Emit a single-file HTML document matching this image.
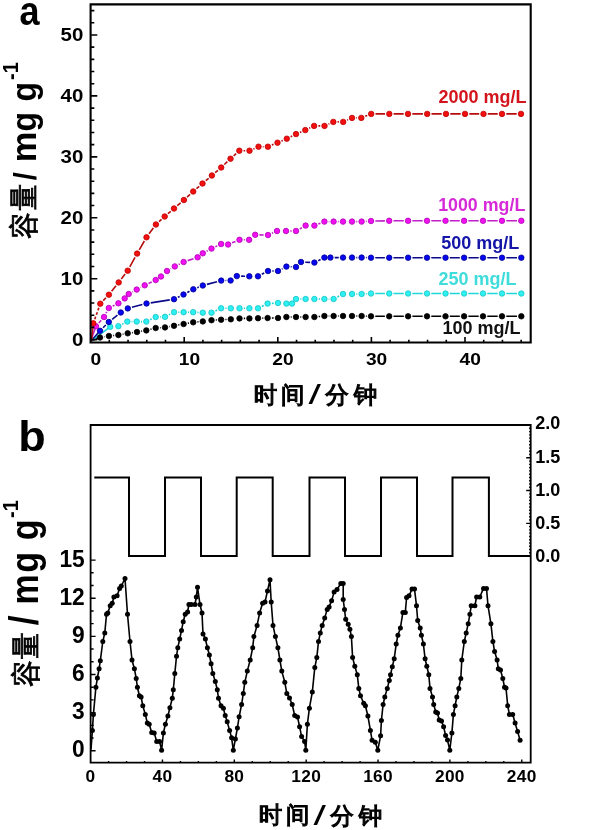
<!DOCTYPE html>
<html><head><meta charset="utf-8"><title>Capacity plot</title>
<style>html,body{margin:0;padding:0;background:#fff;width:600px;height:830px;overflow:hidden}svg{display:block}</style>
</head><body>
<svg width="600" height="830" viewBox="0 0 600 830" style="font-family:&quot;Liberation Sans&quot;,&quot;WenQuanYi Zen Hei&quot;,sans-serif"><rect width="600" height="830" fill="#fff"/><path fill="none" stroke="#000000" stroke-width="1.6" d="M91 341L100 337.5M104.24 336.79L104.66 336.71M113.18 335.55L114.12 335.45M122.63 334.23L123.47 334.07M131.96 332.7L132.74 332.6M141.24 331.27L142.06 331.13M150.47 329.34L151.53 329.06M159.99 327.72L160.71 327.68M169.23 326.65L169.77 326.55M178.23 325.01L179.37 324.79M187.83 323.25L188.97 323.05M197.48 321.9L198.52 321.8M215.79 319.98L216.81 319.92M225.4 319.52L226.5 319.48M243.8 318.4L245.1 318.4M262.3 318.11L263.3 318.09M271.9 318L273.7 318M290.7 317L291.7 317M300.3 317L301.3 317M318.68 316.57L320.12 316.43M328.7 316L329.3 316M337.9 316L338.7 316M356.3 316L357.3 316M365.9 316.14L366.7 316.16M375.3 316.3L384.9 316.3M393.5 316.3L403.8 316.3M412.4 316.3L422.7 316.3M431.3 316.3L441.2 316.3M449.8 316.3L459.8 316.3M468.4 316.3L478.7 316.3M487.3 316.3L497.7 316.3M506.3 316.3L517 316.3"/><path fill="none" stroke="#1fd6d9" stroke-width="1.6" d="M91 341L110.2 326.8M122.22 324.23L123.48 323.57M131.6 321.6L132.4 321.6M141 321.6L142 321.6M150.16 319.71L151.84 318.89M160 316.91L160.7 316.89M168.83 314.84L170.17 314.16M178.3 312.2L179.3 312.2M187.9 312.2L188.9 312.2M197.49 312.42L198.51 312.48M215.41 310.91L217.19 310.09M225.4 308.3L226.5 308.3M243.8 308.3L245.1 308.3M261.86 306.41L263.74 305.49M271.89 303.35L273.71 303.25M300.3 299L301.3 299M318.7 299L320.1 299M328.7 299L329.3 299M337.4 296.98L339.2 296.02M356.3 294L357.3 294M365.89 293.77L366.71 293.73M375.3 293.5L384.9 293.5M393.5 293.5L403.8 293.5M412.4 293.5L422.7 293.5M431.3 293.5L441.2 293.5M449.8 293.5L459.8 293.5M468.4 293.5L478.7 293.5M487.3 293.5L497.7 293.5M506.3 293.5L517 293.5"/><path fill="none" stroke="#0a0a8a" stroke-width="1.6" d="M91 341L100 330.8M103.04 327.76L105.76 325.04M112.17 319.33L117.43 315.17M131.96 307.31L142.34 304.59M150.75 302.84L169.75 299.86M177.85 297.29L179.65 296.41M187.3 292.48L189.5 291.32M197.29 287.7L198.81 287.1M206.96 284.39L217.04 281.71M225.5 280.55L226.3 280.55M241.1 276.17L245 276.23M261.8 274.29L264.2 273.01M272.3 271L273.7 271M281.81 269L282.59 268.6M290.7 266.78L291.7 266.82M305.3 262.19L310.1 262.41M318.25 260.68L320.55 259.52M334.7 257.6L338.7 257.6M356.3 257.6L357.3 257.6M365.9 257.65L366.7 257.65M375.3 257.7L384.9 257.7M393.5 257.7L403.8 257.7M412.4 257.7L422.7 257.7M431.3 257.7L441.2 257.7M449.8 257.7L459.8 257.7M468.4 257.7L478.7 257.7M487.3 257.7L497.7 257.7M506.3 257.7L517 257.7"/><path fill="none" stroke="#c21fc8" stroke-width="1.6" d="M91 340L96 326.3M98.8 323.04L101.2 320.26M106.02 313.21L106.78 311.79M112.66 306.11L114.54 305.19M132.47 291.93L132.93 291.67M140.49 287.56L140.91 287.34M148.57 283.43L151.83 281.87M170.7 268.82L171.1 268.58M178.65 264.48L179.75 263.92M187.68 260.63L193.52 258.67M206.58 251.26L207.72 250.64M215.38 246.74L217.22 245.86M232.08 242.86L235.52 241.44M243.8 239.8L244.8 239.8M259.5 234.87L263.7 234.93M271.93 233.25L273.07 232.75M290.3 231L291.7 231M299.75 228.89L301.85 227.71M318.39 224L320.41 223.2M328.7 221.6L329.3 221.6M337.9 221.6L338.7 221.6M356.3 221.6L357.3 221.6M365.89 221.33L366.71 221.27M375.3 220.95L384.9 220.85M393.5 220.8L403.8 220.8M412.4 220.8L422.7 220.8M431.3 220.8L441.2 220.8M449.8 220.8L459.8 220.8M468.4 220.8L478.7 220.8M487.3 220.8L497.7 220.8M506.3 220.8L517 220.8"/><path fill="none" stroke="#b80d0d" stroke-width="1.6" d="M91.5 341L93.3 323.3M94.75 319.25L95.69 316.61M96.33 314.82L97.27 312.18M97.91 310.39L98.85 307.75M103.27 300.59L105.93 297.81M111.58 291.34L116.02 285.76M121.32 278.99L125.08 274.11M129.77 266.93L135.03 257.37M139.25 249.88L144.35 241.02M149.05 233.83L153.35 227.97M159.08 221.61L161.52 219.39M167.96 213.7L170.74 211.3M177.26 205.7L180.64 202.8M187.07 197.1L190.03 194.4M196.46 188.7L199.24 186.3M205.77 180.71L208.63 178.29M215.16 172.7L217.94 170.3M224.32 164.54L227.38 161.66M233.68 155.81L236.12 153.59M243.6 150.7L245.2 150.7M253.43 148.95L254.57 148.45M262.8 146.7L263.6 146.7M271.87 145.05L273.53 144.35M281.45 141L282.85 140.4M290.65 136.78L292.15 136.02M299.95 132.4L301.35 131.8M309.18 128.25L310.22 127.75M318.4 125.9L320.2 125.9M328.41 124.12L329.39 123.68M337.6 121.9L338.9 121.9M347.11 120.12L348.09 119.68M356.3 117.9L357 117.9M365.29 116.29L367.21 115.51M375.5 113.9L385 113.9M393.6 113.9L403.7 113.9M412.3 113.9L422.9 113.9M431.5 113.9L441.7 113.9M450.3 113.9L460.7 113.9M469.3 113.9L479.2 113.9M487.8 113.9L497.7 113.9M506.3 113.9L516.7 113.9"/><g fill="#000000" stroke="#000000" stroke-width="0.8"><circle cx="100" cy="337.5" r="2.75"/><circle cx="108.9" cy="336" r="2.75"/><circle cx="118.4" cy="335" r="2.75"/><circle cx="127.7" cy="333.3" r="2.75"/><circle cx="137" cy="332" r="2.75"/><circle cx="146.3" cy="330.4" r="2.75"/><circle cx="155.7" cy="328" r="2.75"/><circle cx="165" cy="327.4" r="2.75"/><circle cx="174" cy="325.8" r="2.75"/><circle cx="183.6" cy="324" r="2.75"/><circle cx="193.2" cy="322.3" r="2.75"/><circle cx="202.8" cy="321.4" r="2.75"/><circle cx="211.5" cy="320.2" r="2.75"/><circle cx="221.1" cy="319.7" r="2.75"/><circle cx="230.8" cy="319.3" r="2.75"/><circle cx="239.5" cy="318.4" r="2.75"/><circle cx="249.4" cy="318.4" r="2.75"/><circle cx="258" cy="318.2" r="2.75"/><circle cx="267.6" cy="318" r="2.75"/><circle cx="278" cy="318" r="2.75"/><circle cx="286.4" cy="317" r="2.75"/><circle cx="296" cy="317" r="2.75"/><circle cx="305.6" cy="317" r="2.75"/><circle cx="314.4" cy="317" r="2.75"/><circle cx="324.4" cy="316" r="2.75"/><circle cx="333.6" cy="316" r="2.75"/><circle cx="343" cy="316" r="2.75"/><circle cx="352" cy="316" r="2.75"/><circle cx="361.6" cy="316" r="2.75"/><circle cx="371" cy="316.3" r="2.75"/><circle cx="389.2" cy="316.3" r="2.75"/><circle cx="408.1" cy="316.3" r="2.75"/><circle cx="427" cy="316.3" r="2.75"/><circle cx="445.5" cy="316.3" r="2.75"/><circle cx="464.1" cy="316.3" r="2.75"/><circle cx="483" cy="316.3" r="2.75"/><circle cx="502" cy="316.3" r="2.75"/><circle cx="521.3" cy="316.3" r="2.75"/></g><g fill="#2ef0f0" stroke="#14c4c8" stroke-width="0.8"><circle cx="110.2" cy="326.8" r="2.75"/><circle cx="118.4" cy="326.2" r="2.75"/><circle cx="127.3" cy="321.6" r="2.75"/><circle cx="136.7" cy="321.6" r="2.75"/><circle cx="146.3" cy="321.6" r="2.75"/><circle cx="155.7" cy="317" r="2.75"/><circle cx="165" cy="316.8" r="2.75"/><circle cx="174" cy="312.2" r="2.75"/><circle cx="183.6" cy="312.2" r="2.75"/><circle cx="193.2" cy="312.2" r="2.75"/><circle cx="202.8" cy="312.7" r="2.75"/><circle cx="211.5" cy="312.7" r="2.75"/><circle cx="221.1" cy="308.3" r="2.75"/><circle cx="230.8" cy="308.3" r="2.75"/><circle cx="239.5" cy="308.3" r="2.75"/><circle cx="249.4" cy="308.3" r="2.75"/><circle cx="258" cy="308.3" r="2.75"/><circle cx="267.6" cy="303.6" r="2.75"/><circle cx="278" cy="303" r="2.75"/><circle cx="286.4" cy="303.6" r="2.75"/><circle cx="292" cy="303.6" r="2.75"/><circle cx="296" cy="299" r="2.75"/><circle cx="305.6" cy="299" r="2.75"/><circle cx="314.4" cy="299" r="2.75"/><circle cx="324.4" cy="299" r="2.75"/><circle cx="333.6" cy="299" r="2.75"/><circle cx="343" cy="294" r="2.75"/><circle cx="352" cy="294" r="2.75"/><circle cx="361.6" cy="294" r="2.75"/><circle cx="371" cy="293.5" r="2.75"/><circle cx="389.2" cy="293.5" r="2.75"/><circle cx="408.1" cy="293.5" r="2.75"/><circle cx="427" cy="293.5" r="2.75"/><circle cx="445.5" cy="293.5" r="2.75"/><circle cx="464.1" cy="293.5" r="2.75"/><circle cx="483" cy="293.5" r="2.75"/><circle cx="502" cy="293.5" r="2.75"/><circle cx="521.3" cy="293.5" r="2.75"/></g><g fill="#0606f0" stroke="#000090" stroke-width="0.8"><circle cx="100" cy="330.8" r="2.75"/><circle cx="108.8" cy="322" r="2.75"/><circle cx="120.8" cy="312.5" r="2.75"/><circle cx="127.8" cy="308.4" r="2.75"/><circle cx="146.5" cy="303.5" r="2.75"/><circle cx="174" cy="299.2" r="2.75"/><circle cx="183.5" cy="294.5" r="2.75"/><circle cx="193.3" cy="289.3" r="2.75"/><circle cx="202.8" cy="285.5" r="2.75"/><circle cx="221.2" cy="280.6" r="2.75"/><circle cx="230.6" cy="280.5" r="2.75"/><circle cx="236.8" cy="276.1" r="2.75"/><circle cx="249.3" cy="276.3" r="2.75"/><circle cx="258" cy="276.3" r="2.75"/><circle cx="268" cy="271" r="2.75"/><circle cx="278" cy="271" r="2.75"/><circle cx="286.4" cy="266.6" r="2.75"/><circle cx="296" cy="267" r="2.75"/><circle cx="301" cy="262" r="2.75"/><circle cx="314.4" cy="262.6" r="2.75"/><circle cx="324.4" cy="257.6" r="2.75"/><circle cx="330.4" cy="257.6" r="2.75"/><circle cx="343" cy="257.6" r="2.75"/><circle cx="352" cy="257.6" r="2.75"/><circle cx="361.6" cy="257.6" r="2.75"/><circle cx="371" cy="257.7" r="2.75"/><circle cx="389.2" cy="257.7" r="2.75"/><circle cx="408.1" cy="257.7" r="2.75"/><circle cx="427" cy="257.7" r="2.75"/><circle cx="445.5" cy="257.7" r="2.75"/><circle cx="464.1" cy="257.7" r="2.75"/><circle cx="483" cy="257.7" r="2.75"/><circle cx="502" cy="257.7" r="2.75"/><circle cx="521.3" cy="257.7" r="2.75"/></g><g fill="#f010f0" stroke="#b000b8" stroke-width="0.8"><circle cx="96" cy="326.3" r="2.75"/><circle cx="104" cy="317" r="2.75"/><circle cx="108.8" cy="308" r="2.75"/><circle cx="118.4" cy="303.3" r="2.75"/><circle cx="124.7" cy="298.4" r="2.75"/><circle cx="128.7" cy="294" r="2.75"/><circle cx="136.7" cy="289.6" r="2.75"/><circle cx="144.7" cy="285.3" r="2.75"/><circle cx="155.7" cy="280" r="2.75"/><circle cx="161" cy="276.5" r="2.75"/><circle cx="167" cy="271" r="2.75"/><circle cx="174.8" cy="266.4" r="2.75"/><circle cx="183.6" cy="262" r="2.75"/><circle cx="197.6" cy="257.3" r="2.75"/><circle cx="202.8" cy="253.3" r="2.75"/><circle cx="211.5" cy="248.6" r="2.75"/><circle cx="221.1" cy="244" r="2.75"/><circle cx="228.1" cy="244.5" r="2.75"/><circle cx="239.5" cy="239.8" r="2.75"/><circle cx="249.1" cy="239.8" r="2.75"/><circle cx="255.2" cy="234.8" r="2.75"/><circle cx="268" cy="235" r="2.75"/><circle cx="277" cy="231" r="2.75"/><circle cx="286" cy="231" r="2.75"/><circle cx="296" cy="231" r="2.75"/><circle cx="305.6" cy="225.6" r="2.75"/><circle cx="314.4" cy="225.6" r="2.75"/><circle cx="324.4" cy="221.6" r="2.75"/><circle cx="333.6" cy="221.6" r="2.75"/><circle cx="343" cy="221.6" r="2.75"/><circle cx="352" cy="221.6" r="2.75"/><circle cx="361.6" cy="221.6" r="2.75"/><circle cx="371" cy="221" r="2.75"/><circle cx="389.2" cy="220.8" r="2.75"/><circle cx="408.1" cy="220.8" r="2.75"/><circle cx="427" cy="220.8" r="2.75"/><circle cx="445.5" cy="220.8" r="2.75"/><circle cx="464.1" cy="220.8" r="2.75"/><circle cx="483" cy="220.8" r="2.75"/><circle cx="502" cy="220.8" r="2.75"/><circle cx="521.3" cy="220.8" r="2.75"/></g><g fill="#f01010" stroke="#c00000" stroke-width="0.8"><circle cx="93.3" cy="323.3" r="2.75"/><circle cx="100.3" cy="303.7" r="2.75"/><circle cx="108.9" cy="294.7" r="2.75"/><circle cx="118.7" cy="282.4" r="2.75"/><circle cx="127.7" cy="270.7" r="2.75"/><circle cx="137.1" cy="253.6" r="2.75"/><circle cx="146.5" cy="237.3" r="2.75"/><circle cx="155.9" cy="224.5" r="2.75"/><circle cx="164.7" cy="216.5" r="2.75"/><circle cx="174" cy="208.5" r="2.75"/><circle cx="183.9" cy="200" r="2.75"/><circle cx="193.2" cy="191.5" r="2.75"/><circle cx="202.5" cy="183.5" r="2.75"/><circle cx="211.9" cy="175.5" r="2.75"/><circle cx="221.2" cy="167.5" r="2.75"/><circle cx="230.5" cy="158.7" r="2.75"/><circle cx="239.3" cy="150.7" r="2.75"/><circle cx="249.5" cy="150.7" r="2.75"/><circle cx="258.5" cy="146.7" r="2.75"/><circle cx="267.9" cy="146.7" r="2.75"/><circle cx="277.5" cy="142.7" r="2.75"/><circle cx="286.8" cy="138.7" r="2.75"/><circle cx="296" cy="134.1" r="2.75"/><circle cx="305.3" cy="130.1" r="2.75"/><circle cx="314.1" cy="125.9" r="2.75"/><circle cx="324.5" cy="125.9" r="2.75"/><circle cx="333.3" cy="121.9" r="2.75"/><circle cx="343.2" cy="121.9" r="2.75"/><circle cx="352" cy="117.9" r="2.75"/><circle cx="361.3" cy="117.9" r="2.75"/><circle cx="371.2" cy="113.9" r="2.75"/><circle cx="389.3" cy="113.9" r="2.75"/><circle cx="408" cy="113.9" r="2.75"/><circle cx="427.2" cy="113.9" r="2.75"/><circle cx="446" cy="113.9" r="2.75"/><circle cx="465" cy="113.9" r="2.75"/><circle cx="483.5" cy="113.9" r="2.75"/><circle cx="502" cy="113.9" r="2.75"/><circle cx="521" cy="113.9" r="2.75"/></g><path fill="none" stroke="#000" stroke-width="2.1" d="M90.6 4.4H530.7V342.5H90.6Z"/><path fill="none" stroke="#000" stroke-width="1.6" d="M90.6 339.6h6.7M90.6 327.42h3.7M90.6 315.23h3.7M90.6 303.05h3.7M90.6 290.86h3.7M90.6 278.68h6.7M90.6 266.49h3.7M90.6 254.31h3.7M90.6 242.12h3.7M90.6 229.94h3.7M90.6 217.75h6.7M90.6 205.57h3.7M90.6 193.38h3.7M90.6 181.2h3.7M90.6 169.01h3.7M90.6 156.83h6.7M90.6 144.64h3.7M90.6 132.46h3.7M90.6 120.27h3.7M90.6 108.09h3.7M90.6 95.9h6.7M90.6 83.72h3.7M90.6 71.53h3.7M90.6 59.35h3.7M90.6 47.16h3.7M90.6 34.98h6.7M90.6 22.79h3.7M90.6 10.61h3.7M109.32 342.5v-2.8M128.04 342.5v-2.8M146.76 342.5v-2.8M165.48 342.5v-2.8M184.2 342.5v-5.5M202.92 342.5v-2.8M221.64 342.5v-2.8M240.36 342.5v-2.8M259.08 342.5v-2.8M277.8 342.5v-5.5M296.52 342.5v-2.8M315.24 342.5v-2.8M333.96 342.5v-2.8M352.68 342.5v-2.8M371.4 342.5v-5.5M390.12 342.5v-2.8M408.84 342.5v-2.8M427.56 342.5v-2.8M446.28 342.5v-2.8M465 342.5v-5.5M483.72 342.5v-2.8M502.44 342.5v-2.8M521.16 342.5v-2.8"/><path fill="none" stroke="#000" stroke-width="2" d="M94.3 477.46H129V556.1H165V477.46H201V556.1H236.7V477.46H272.7V556.1H309.5V477.46H345V556.1H381V477.46H417V556.1H452.5V477.46H488.9V556.1H530.7"/><path fill="none" stroke="#000" stroke-width="1.6" stroke-linejoin="round" d="M91 749.5L92.4 730.4L93.4 714.4L95.9 687.2L97.4 678L99.1 668.7L100.3 660.8L102.8 641.5L104.8 632.9L106.5 614.3L107.8 613.1L110.2 605.7L112.2 603.2L113.9 597L117.1 595.8L119.6 588.4L121.3 586L125 578.5L127.5 614.3L130 641.5L132 660L134.4 668.7L136.2 678.5L137.4 687.2L139.4 695.8L141.1 697L142.8 705.7L145.3 714.4L147.3 723L149.2 724.2L151.7 732.4L154.2 732.9L156.7 741.5L159.6 741.5L161.6 750.2L163.4 732.9L165.4 724.2L167.9 716L169.9 707.7L172.3 698.3L173.3 689.7L174.8 673.6L176.5 656.3L177.8 647.7L179.7 639L181.5 630.4L183.2 621.7L185.2 614.3L187.6 611.9L188.9 604.5L191.3 604.5L195 604.5L196.3 597L197.5 587.2L200 604.5L202 613L203 634L205.4 639L207.4 647.7L209.4 655L211.1 663.7L212.8 673.6L215.3 681.5L217.3 689.7L218.5 698.3L221 705.7L223.4 708.2L225.2 715.6L227.2 721.8L229.6 730.4L231.6 737.8L233.3 750.2L235.4 739L237.4 728L239.1 716.8L241.6 704.5L243.3 693.4L244.8 682.3L247.3 671.1L250.2 660L252.7 647.7L253.9 636.6L257.1 625.4L259.6 613.1L262.6 603.2L265 602L267.5 590.9L270 579.8L271.2 602L273 625.4L275.4 636.6L277.9 647.7L279.9 660L281.8 671.1L284.8 682.3L286.8 693.4L289.5 698L292.2 704.5L294.7 715.6L297.5 717L299.6 726.7L301.6 736.6L304.6 741.5L305.8 750.2L307.4 724.2L309.4 708.2L312.3 692.1L314.8 667.4L316.8 657.6L318.5 641.5L320.3 632.9L322.2 625.4L324.7 618L327.2 609.4L329.1 606.9L331.6 600.8L334.1 592.1L337 589.6L340.8 583.5L343.2 583.5L343.2 599.5L344.5 609.4L345.7 619.3L348.2 624.2L349.9 629.2L351.4 636.6L352.6 657.6L354.8 666.2L357.3 674.8L358.8 688.4L360.5 695.8L363.7 703.2L365.4 705.7L367.9 716L370.4 730.4L372.1 740.3L375.3 742.3L377.8 750.2L380.6 735.8L381.4 720.5L383.1 704.5L384.8 697L387.3 688.4L389.3 680.5L390.5 674.8L392.3 666.7L394.2 658.8L396.2 644L397.9 635.3L400.4 627.9L402.9 612.4L405.3 612.4L406.6 597.5L409 595.8L412 589.1L414.5 589.1L416.5 605.7L417.7 620.5L420.2 627.9L421.4 635.3L423.4 644L425.1 658.8L426.8 666.2L428.8 674.8L430 688.4L432.5 697L433.7 704.5L435.7 711.9L437.5 713L439.2 720L441.5 721L443.6 726.7L445.6 735.4L447.5 740L449.8 750.2L451.9 732.9L453.4 714.4L455.1 705.7L456.8 697L458.8 688.4L460.8 678.5L461.8 660L464.3 641.5L466.2 632.9L468.2 623.7L469.9 614.3L471.2 605.7L474.9 605.7L476.6 597L479.8 597L483.5 588.4L486.5 588.4L488 605.7L490.9 623.7L492.9 641.5L494.6 651.4L497.1 660L498.3 668.7L500.5 670L502.8 678.5L504.5 687.2L506 688L507.7 705.7L509.4 714.4L512.7 714.4L515.1 723L517.6 731.6L520.1 740.3"/><g fill="#000"><circle cx="92.4" cy="730.4" r="2.5"/><circle cx="93.4" cy="714.4" r="2.5"/><circle cx="95.9" cy="687.2" r="2.5"/><circle cx="97.4" cy="678" r="2.5"/><circle cx="99.1" cy="668.7" r="2.5"/><circle cx="100.3" cy="660.8" r="2.5"/><circle cx="102.8" cy="641.5" r="2.5"/><circle cx="104.8" cy="632.9" r="2.5"/><circle cx="106.5" cy="614.3" r="2.5"/><circle cx="107.8" cy="613.1" r="2.5"/><circle cx="110.2" cy="605.7" r="2.5"/><circle cx="112.2" cy="603.2" r="2.5"/><circle cx="113.9" cy="597" r="2.5"/><circle cx="117.1" cy="595.8" r="2.5"/><circle cx="119.6" cy="588.4" r="2.5"/><circle cx="121.3" cy="586" r="2.5"/><circle cx="125" cy="578.5" r="2.5"/><circle cx="127.5" cy="614.3" r="2.5"/><circle cx="130" cy="641.5" r="2.5"/><circle cx="132" cy="660" r="2.5"/><circle cx="134.4" cy="668.7" r="2.5"/><circle cx="136.2" cy="678.5" r="2.5"/><circle cx="137.4" cy="687.2" r="2.5"/><circle cx="139.4" cy="695.8" r="2.5"/><circle cx="141.1" cy="697" r="2.5"/><circle cx="142.8" cy="705.7" r="2.5"/><circle cx="145.3" cy="714.4" r="2.5"/><circle cx="147.3" cy="723" r="2.5"/><circle cx="149.2" cy="724.2" r="2.5"/><circle cx="151.7" cy="732.4" r="2.5"/><circle cx="154.2" cy="732.9" r="2.5"/><circle cx="156.7" cy="741.5" r="2.5"/><circle cx="159.6" cy="741.5" r="2.5"/><circle cx="161.6" cy="750.2" r="2.5"/><circle cx="163.4" cy="732.9" r="2.5"/><circle cx="165.4" cy="724.2" r="2.5"/><circle cx="167.9" cy="716" r="2.5"/><circle cx="169.9" cy="707.7" r="2.5"/><circle cx="172.3" cy="698.3" r="2.5"/><circle cx="173.3" cy="689.7" r="2.5"/><circle cx="174.8" cy="673.6" r="2.5"/><circle cx="176.5" cy="656.3" r="2.5"/><circle cx="177.8" cy="647.7" r="2.5"/><circle cx="179.7" cy="639" r="2.5"/><circle cx="181.5" cy="630.4" r="2.5"/><circle cx="183.2" cy="621.7" r="2.5"/><circle cx="185.2" cy="614.3" r="2.5"/><circle cx="187.6" cy="611.9" r="2.5"/><circle cx="188.9" cy="604.5" r="2.5"/><circle cx="191.3" cy="604.5" r="2.5"/><circle cx="195" cy="604.5" r="2.5"/><circle cx="196.3" cy="597" r="2.5"/><circle cx="197.5" cy="587.2" r="2.5"/><circle cx="200" cy="604.5" r="2.5"/><circle cx="202" cy="613" r="2.5"/><circle cx="203" cy="634" r="2.5"/><circle cx="205.4" cy="639" r="2.5"/><circle cx="207.4" cy="647.7" r="2.5"/><circle cx="209.4" cy="655" r="2.5"/><circle cx="211.1" cy="663.7" r="2.5"/><circle cx="212.8" cy="673.6" r="2.5"/><circle cx="215.3" cy="681.5" r="2.5"/><circle cx="217.3" cy="689.7" r="2.5"/><circle cx="218.5" cy="698.3" r="2.5"/><circle cx="221" cy="705.7" r="2.5"/><circle cx="223.4" cy="708.2" r="2.5"/><circle cx="225.2" cy="715.6" r="2.5"/><circle cx="227.2" cy="721.8" r="2.5"/><circle cx="229.6" cy="730.4" r="2.5"/><circle cx="231.6" cy="737.8" r="2.5"/><circle cx="233.3" cy="750.2" r="2.5"/><circle cx="235.4" cy="739" r="2.5"/><circle cx="237.4" cy="728" r="2.5"/><circle cx="239.1" cy="716.8" r="2.5"/><circle cx="241.6" cy="704.5" r="2.5"/><circle cx="243.3" cy="693.4" r="2.5"/><circle cx="244.8" cy="682.3" r="2.5"/><circle cx="247.3" cy="671.1" r="2.5"/><circle cx="250.2" cy="660" r="2.5"/><circle cx="252.7" cy="647.7" r="2.5"/><circle cx="253.9" cy="636.6" r="2.5"/><circle cx="257.1" cy="625.4" r="2.5"/><circle cx="259.6" cy="613.1" r="2.5"/><circle cx="262.6" cy="603.2" r="2.5"/><circle cx="265" cy="602" r="2.5"/><circle cx="267.5" cy="590.9" r="2.5"/><circle cx="270" cy="579.8" r="2.5"/><circle cx="271.2" cy="602" r="2.5"/><circle cx="273" cy="625.4" r="2.5"/><circle cx="275.4" cy="636.6" r="2.5"/><circle cx="277.9" cy="647.7" r="2.5"/><circle cx="279.9" cy="660" r="2.5"/><circle cx="281.8" cy="671.1" r="2.5"/><circle cx="284.8" cy="682.3" r="2.5"/><circle cx="286.8" cy="693.4" r="2.5"/><circle cx="289.5" cy="698" r="2.5"/><circle cx="292.2" cy="704.5" r="2.5"/><circle cx="294.7" cy="715.6" r="2.5"/><circle cx="297.5" cy="717" r="2.5"/><circle cx="299.6" cy="726.7" r="2.5"/><circle cx="301.6" cy="736.6" r="2.5"/><circle cx="304.6" cy="741.5" r="2.5"/><circle cx="305.8" cy="750.2" r="2.5"/><circle cx="307.4" cy="724.2" r="2.5"/><circle cx="309.4" cy="708.2" r="2.5"/><circle cx="312.3" cy="692.1" r="2.5"/><circle cx="314.8" cy="667.4" r="2.5"/><circle cx="316.8" cy="657.6" r="2.5"/><circle cx="318.5" cy="641.5" r="2.5"/><circle cx="320.3" cy="632.9" r="2.5"/><circle cx="322.2" cy="625.4" r="2.5"/><circle cx="324.7" cy="618" r="2.5"/><circle cx="327.2" cy="609.4" r="2.5"/><circle cx="329.1" cy="606.9" r="2.5"/><circle cx="331.6" cy="600.8" r="2.5"/><circle cx="334.1" cy="592.1" r="2.5"/><circle cx="337" cy="589.6" r="2.5"/><circle cx="340.8" cy="583.5" r="2.5"/><circle cx="343.2" cy="583.5" r="2.5"/><circle cx="343.2" cy="599.5" r="2.5"/><circle cx="344.5" cy="609.4" r="2.5"/><circle cx="345.7" cy="619.3" r="2.5"/><circle cx="348.2" cy="624.2" r="2.5"/><circle cx="349.9" cy="629.2" r="2.5"/><circle cx="351.4" cy="636.6" r="2.5"/><circle cx="352.6" cy="657.6" r="2.5"/><circle cx="354.8" cy="666.2" r="2.5"/><circle cx="357.3" cy="674.8" r="2.5"/><circle cx="358.8" cy="688.4" r="2.5"/><circle cx="360.5" cy="695.8" r="2.5"/><circle cx="363.7" cy="703.2" r="2.5"/><circle cx="365.4" cy="705.7" r="2.5"/><circle cx="367.9" cy="716" r="2.5"/><circle cx="370.4" cy="730.4" r="2.5"/><circle cx="372.1" cy="740.3" r="2.5"/><circle cx="375.3" cy="742.3" r="2.5"/><circle cx="377.8" cy="750.2" r="2.5"/><circle cx="380.6" cy="735.8" r="2.5"/><circle cx="381.4" cy="720.5" r="2.5"/><circle cx="383.1" cy="704.5" r="2.5"/><circle cx="384.8" cy="697" r="2.5"/><circle cx="387.3" cy="688.4" r="2.5"/><circle cx="389.3" cy="680.5" r="2.5"/><circle cx="390.5" cy="674.8" r="2.5"/><circle cx="392.3" cy="666.7" r="2.5"/><circle cx="394.2" cy="658.8" r="2.5"/><circle cx="396.2" cy="644" r="2.5"/><circle cx="397.9" cy="635.3" r="2.5"/><circle cx="400.4" cy="627.9" r="2.5"/><circle cx="402.9" cy="612.4" r="2.5"/><circle cx="405.3" cy="612.4" r="2.5"/><circle cx="406.6" cy="597.5" r="2.5"/><circle cx="409" cy="595.8" r="2.5"/><circle cx="412" cy="589.1" r="2.5"/><circle cx="414.5" cy="589.1" r="2.5"/><circle cx="416.5" cy="605.7" r="2.5"/><circle cx="417.7" cy="620.5" r="2.5"/><circle cx="420.2" cy="627.9" r="2.5"/><circle cx="421.4" cy="635.3" r="2.5"/><circle cx="423.4" cy="644" r="2.5"/><circle cx="425.1" cy="658.8" r="2.5"/><circle cx="426.8" cy="666.2" r="2.5"/><circle cx="428.8" cy="674.8" r="2.5"/><circle cx="430" cy="688.4" r="2.5"/><circle cx="432.5" cy="697" r="2.5"/><circle cx="433.7" cy="704.5" r="2.5"/><circle cx="435.7" cy="711.9" r="2.5"/><circle cx="437.5" cy="713" r="2.5"/><circle cx="439.2" cy="720" r="2.5"/><circle cx="441.5" cy="721" r="2.5"/><circle cx="443.6" cy="726.7" r="2.5"/><circle cx="445.6" cy="735.4" r="2.5"/><circle cx="447.5" cy="740" r="2.5"/><circle cx="449.8" cy="750.2" r="2.5"/><circle cx="451.9" cy="732.9" r="2.5"/><circle cx="453.4" cy="714.4" r="2.5"/><circle cx="455.1" cy="705.7" r="2.5"/><circle cx="456.8" cy="697" r="2.5"/><circle cx="458.8" cy="688.4" r="2.5"/><circle cx="460.8" cy="678.5" r="2.5"/><circle cx="461.8" cy="660" r="2.5"/><circle cx="464.3" cy="641.5" r="2.5"/><circle cx="466.2" cy="632.9" r="2.5"/><circle cx="468.2" cy="623.7" r="2.5"/><circle cx="469.9" cy="614.3" r="2.5"/><circle cx="471.2" cy="605.7" r="2.5"/><circle cx="474.9" cy="605.7" r="2.5"/><circle cx="476.6" cy="597" r="2.5"/><circle cx="479.8" cy="597" r="2.5"/><circle cx="483.5" cy="588.4" r="2.5"/><circle cx="486.5" cy="588.4" r="2.5"/><circle cx="488" cy="605.7" r="2.5"/><circle cx="490.9" cy="623.7" r="2.5"/><circle cx="492.9" cy="641.5" r="2.5"/><circle cx="494.6" cy="651.4" r="2.5"/><circle cx="497.1" cy="660" r="2.5"/><circle cx="498.3" cy="668.7" r="2.5"/><circle cx="500.5" cy="670" r="2.5"/><circle cx="502.8" cy="678.5" r="2.5"/><circle cx="504.5" cy="687.2" r="2.5"/><circle cx="506" cy="688" r="2.5"/><circle cx="507.7" cy="705.7" r="2.5"/><circle cx="509.4" cy="714.4" r="2.5"/><circle cx="512.7" cy="714.4" r="2.5"/><circle cx="515.1" cy="723" r="2.5"/><circle cx="517.6" cy="731.6" r="2.5"/><circle cx="520.1" cy="740.3" r="2.5"/></g><path fill="none" stroke="#000" stroke-width="1.8" d="M90.6 425H530.7V762.6H90.6Z"/><path fill="none" stroke="#000" stroke-width="1.4" d="M90.6 750.75h5M90.6 738.04h3M90.6 725.33h3M90.6 712.62h5M90.6 699.91h3M90.6 687.2h3M90.6 674.49h5M90.6 661.78h3M90.6 649.07h3M90.6 636.36h5M90.6 623.65h3M90.6 610.94h3M90.6 598.23h5M90.6 585.52h3M90.6 572.81h3M90.6 560.1h5M108.56 762.6v-1.6M126.53 762.6v-1.6M144.5 762.6v-1.6M162.46 762.6v-3M180.43 762.6v-1.6M198.39 762.6v-1.6M216.35 762.6v-1.6M234.32 762.6v-3M252.28 762.6v-1.6M270.25 762.6v-1.6M288.22 762.6v-1.6M306.18 762.6v-3M324.14 762.6v-1.6M342.11 762.6v-1.6M360.08 762.6v-1.6M378.04 762.6v-3M396 762.6v-1.6M413.97 762.6v-1.6M431.93 762.6v-1.6M449.9 762.6v-3M467.87 762.6v-1.6M485.83 762.6v-1.6M503.79 762.6v-1.6M521.76 762.6v-3M530.7 556.1h-4.5M530.7 552.82h-1.6M530.7 549.55h-1.6M530.7 546.27h-1.6M530.7 542.99h-1.6M530.7 539.72h-1.6M530.7 536.44h-1.6M530.7 533.16h-1.6M530.7 529.89h-1.6M530.7 526.61h-1.6M530.7 523.34h-4.5M530.7 520.06h-1.6M530.7 516.78h-1.6M530.7 513.51h-1.6M530.7 510.23h-1.6M530.7 506.95h-1.6M530.7 503.68h-1.6M530.7 500.4h-1.6M530.7 497.12h-1.6M530.7 493.85h-1.6M530.7 490.57h-4.5M530.7 487.29h-1.6M530.7 484.02h-1.6M530.7 480.74h-1.6M530.7 477.46h-1.6M530.7 474.19h-1.6M530.7 470.91h-1.6M530.7 467.63h-1.6M530.7 464.36h-1.6M530.7 461.08h-1.6M530.7 457.81h-4.5M530.7 454.53h-1.6M530.7 451.25h-1.6M530.7 447.98h-1.6M530.7 444.7h-1.6M530.7 441.42h-1.6M530.7 438.15h-1.6M530.7 434.87h-1.6M530.7 431.59h-1.6M530.7 428.32h-1.6"/><text transform="translate(83.3 345.8) scale(1.15 1)" font-size="17.8" font-weight="bold" text-anchor="end" fill="#000">0</text><text transform="translate(83.3 284.88) scale(1.15 1)" font-size="17.8" font-weight="bold" text-anchor="end" fill="#000">10</text><text transform="translate(83.3 223.95) scale(1.15 1)" font-size="17.8" font-weight="bold" text-anchor="end" fill="#000">20</text><text transform="translate(83.3 163.03) scale(1.15 1)" font-size="17.8" font-weight="bold" text-anchor="end" fill="#000">30</text><text transform="translate(83.3 102.1) scale(1.15 1)" font-size="17.8" font-weight="bold" text-anchor="end" fill="#000">40</text><text transform="translate(83.3 41.18) scale(1.15 1)" font-size="17.8" font-weight="bold" text-anchor="end" fill="#000">50</text><text transform="translate(95.8 364.7) scale(1.13 1)" font-size="17" font-weight="bold" text-anchor="middle" fill="#000">0</text><text transform="translate(189.4 364.7) scale(1.13 1)" font-size="17" font-weight="bold" text-anchor="middle" fill="#000">10</text><text transform="translate(283 364.7) scale(1.13 1)" font-size="17" font-weight="bold" text-anchor="middle" fill="#000">20</text><text transform="translate(376.6 364.7) scale(1.13 1)" font-size="17" font-weight="bold" text-anchor="middle" fill="#000">30</text><text transform="translate(470.2 364.7) scale(1.13 1)" font-size="17" font-weight="bold" text-anchor="middle" fill="#000">40</text><text transform="translate(19.4 24.5) scale(0.88 1)" font-size="41" font-weight="bold" text-anchor="start" fill="#000">a</text><text transform="translate(18.3 451) scale(1.07 1)" font-size="42" font-weight="bold" text-anchor="start" fill="#000">b</text><text transform="translate(526.6 103.3) scale(1 1)" font-size="18" font-weight="bold" text-anchor="end" fill="#d4141c">2000 mg/L</text><text transform="translate(525.3 211) scale(0.99 1)" font-size="18" font-weight="bold" text-anchor="end" fill="#d62ad8">1000 mg/L</text><text transform="translate(519.3 249) scale(1 1)" font-size="18" font-weight="bold" text-anchor="end" fill="#1414a8">500 mg/L</text><text transform="translate(516.5 285) scale(1 1)" font-size="18" font-weight="bold" text-anchor="end" fill="#3fdcdc">250 mg/L</text><text transform="translate(520.5 333.6) scale(1 1)" font-size="18" font-weight="bold" text-anchor="end" fill="#111">100 mg/L</text><text transform="translate(84.8 757.35) scale(0.95 1)" font-size="24" font-weight="bold" text-anchor="end" fill="#000">0</text><text transform="translate(84.8 719.22) scale(0.95 1)" font-size="24" font-weight="bold" text-anchor="end" fill="#000">3</text><text transform="translate(84.8 681.09) scale(0.95 1)" font-size="24" font-weight="bold" text-anchor="end" fill="#000">6</text><text transform="translate(84.8 642.96) scale(0.95 1)" font-size="24" font-weight="bold" text-anchor="end" fill="#000">9</text><text transform="translate(84.8 604.83) scale(0.95 1)" font-size="24" font-weight="bold" text-anchor="end" fill="#000">12</text><text transform="translate(84.8 566.7) scale(0.95 1)" font-size="24" font-weight="bold" text-anchor="end" fill="#000">15</text><text transform="translate(535.2 561.7) scale(1 1)" font-size="18" font-weight="bold" text-anchor="start" fill="#000">0.0</text><text transform="translate(535.2 528.94) scale(1 1)" font-size="18" font-weight="bold" text-anchor="start" fill="#000">0.5</text><text transform="translate(535.2 496.17) scale(1 1)" font-size="18" font-weight="bold" text-anchor="start" fill="#000">1.0</text><text transform="translate(535.2 463.41) scale(1 1)" font-size="18" font-weight="bold" text-anchor="start" fill="#000">1.5</text><text transform="translate(535.2 429.24) scale(1 1)" font-size="18" font-weight="bold" text-anchor="start" fill="#000">2.0</text><text transform="translate(90.6 781.8) scale(1.05 1)" font-size="16.5" font-weight="bold" text-anchor="middle" fill="#000" letter-spacing="0.3">0</text><text transform="translate(162.46 781.8) scale(1.05 1)" font-size="16.5" font-weight="bold" text-anchor="middle" fill="#000" letter-spacing="0.3">40</text><text transform="translate(234.32 781.8) scale(1.05 1)" font-size="16.5" font-weight="bold" text-anchor="middle" fill="#000" letter-spacing="0.3">80</text><text transform="translate(306.18 781.8) scale(1.05 1)" font-size="16.5" font-weight="bold" text-anchor="middle" fill="#000" letter-spacing="0.3">120</text><text transform="translate(378.04 781.8) scale(1.05 1)" font-size="16.5" font-weight="bold" text-anchor="middle" fill="#000" letter-spacing="0.3">160</text><text transform="translate(449.9 781.8) scale(1.05 1)" font-size="16.5" font-weight="bold" text-anchor="middle" fill="#000" letter-spacing="0.3">200</text><text transform="translate(521.76 781.8) scale(1.05 1)" font-size="16.5" font-weight="bold" text-anchor="middle" fill="#000" letter-spacing="0.3">240</text><text transform="translate(36 0) scale(1.12 1) rotate(-90)"><tspan x="-238.8" y="-1.8" font-size="26.5" font-weight="normal" stroke="#000" stroke-width="0.75">容</tspan><tspan x="-210.6" y="-1.8" font-size="26.5" font-weight="normal" stroke="#000" stroke-width="0.75">量</tspan><tspan x="-180.3" y="0" font-size="28.5" font-weight="bold">/</tspan><tspan x="-162.3" y="0" font-size="32" font-weight="bold" textLength="30.6" lengthAdjust="spacingAndGlyphs">m</tspan><tspan x="-131.5" y="0" font-size="32" font-weight="bold">g</tspan><tspan x="-101.5" y="0" font-size="32" font-weight="bold">g</tspan><tspan x="-80" y="-16.2" font-size="20" font-weight="bold">-1</tspan></text><text transform="translate(38.4 0) scale(1.12 1) rotate(-90)"><tspan x="-686.8" y="-1.8" font-size="26.5" font-weight="normal" stroke="#000" stroke-width="0.75">容</tspan><tspan x="-659" y="-1.8" font-size="26.5" font-weight="normal" stroke="#000" stroke-width="0.75">量</tspan><tspan x="-625.2" y="0" font-size="35.5" font-weight="bold">/</tspan><tspan x="-604.4" y="0" font-size="34" font-weight="bold">m</tspan><tspan x="-572.7" y="0" font-size="34" font-weight="bold">g</tspan><tspan x="-540.2" y="0" font-size="34" font-weight="bold">g</tspan><tspan x="-518" y="-18" font-size="20" font-weight="bold">-1</tspan></text><text y="402.5" font-size="23.5" font-family="&quot;Liberation Sans&quot;, &quot;WenQuanYi Zen Hei&quot;, sans-serif" stroke="#000" stroke-width="1.15"><tspan x="253.7">时</tspan><tspan x="280.9">间</tspan><tspan x="325.2" dy="0.6">分</tspan><tspan x="353.7">钟</tspan></text><text transform="translate(308.6 404.3) scale(1.6 1)" font-size="28" font-weight="normal" font-family="&quot;Liberation Sans&quot;, sans-serif">/</text><text y="823" font-size="23.5" font-family="&quot;Liberation Sans&quot;, &quot;WenQuanYi Zen Hei&quot;, sans-serif" stroke="#000" stroke-width="1.15"><tspan x="258.7">时</tspan><tspan x="285.9">间</tspan><tspan x="330.2" dy="0.6">分</tspan><tspan x="358.7">钟</tspan></text><text transform="translate(313.6 824.8) scale(1.6 1)" font-size="28" font-weight="normal" font-family="&quot;Liberation Sans&quot;, sans-serif">/</text></svg>
</body></html>
